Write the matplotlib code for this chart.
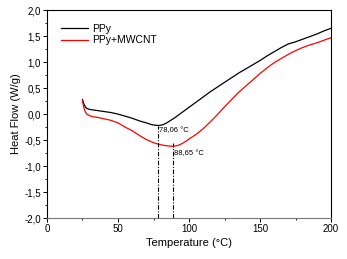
import numpy as np
import matplotlib as mpl
mpl.use("Agg")
mpl.rcParams['font.family'] = ['Liberation Sans', 'DejaVu Sans']
import matplotlib.pyplot as plt
from matplotlib.ticker import MultipleLocator, FuncFormatter

# temperatures (°C) and heat flow (W/g)
t_ppy = [25, 26, 27, 28, 30, 35, 40, 45, 50, 55, 60, 65, 70, 74, 78.06, 80,
         82, 84, 86, 88, 90, 95, 100, 105, 110, 115, 120, 125, 130, 135, 140,
         145, 150, 155, 160, 165, 170, 175, 180, 185, 190, 195, 200]
hf_ppy = [0.28, 0.19, 0.14, 0.11, 0.09, 0.07, 0.05, 0.03, 0.0, -0.04, -0.08,
          -0.13, -0.17, -0.205, -0.22, -0.215, -0.20, -0.175, -0.14, -0.105,
          -0.07, 0.03, 0.13, 0.23, 0.33, 0.43, 0.52, 0.61, 0.70, 0.79, 0.87,
          0.95, 1.03, 1.12, 1.20, 1.28, 1.35, 1.39, 1.44, 1.49, 1.54, 1.60,
          1.65]

t_mw = [25, 26, 27, 28, 30, 32, 35, 40, 45, 50, 55, 60, 65, 70, 75, 80, 85,
        88.65, 92, 95, 98, 100, 105, 110, 115, 120, 125, 130, 135, 140, 145,
        150, 155, 160, 165, 170, 175, 180, 185, 190, 195, 200]
hf_mw = [0.25, 0.12, 0.04, 0.0, -0.03, -0.05, -0.06, -0.09, -0.12, -0.17,
         -0.25, -0.32, -0.41, -0.49, -0.55, -0.59, -0.612, -0.62, -0.605,
         -0.57, -0.52, -0.48, -0.39, -0.28, -0.15, -0.01, 0.14, 0.28, 0.42,
         0.54, 0.66, 0.78, 0.89, 0.99, 1.07, 1.15, 1.22, 1.28, 1.33, 1.37,
         1.42, 1.47]

peaks = [78.06, 88.65]
peak_tops = [-0.22, -0.55]
peak_labels = ["78,06 °C", "88,65 °C"]
label_y = [-0.32, -0.75]

fig = plt.figure(figsize=(3.47, 2.59), dpi=100)
ax = fig.add_axes([0.1354, 0.158, 0.8186, 0.803])

ax.plot(t_ppy, hf_ppy, c="black", lw=0.9, label="PPy")
ax.plot(t_mw, hf_mw, c="red", lw=0.9, label="PPy+MWCNT")

for x, top, lab, ly in zip(peaks, peak_tops, peak_labels, label_y):
    ax.plot([x, x], [-2.0, top], ls=(0, (4, 1.5, 1, 1.5)), c="black", lw=0.8)
    ax.text(x + 1, ly, lab, fontsize=5.5, va="center", ha="left")

ax.set_xlim(0, 200)
ax.set_ylim(-2.0, 2.0)
ax.xaxis.set_major_locator(MultipleLocator(50))
ax.xaxis.set_minor_locator(MultipleLocator(25))
ax.yaxis.set_major_locator(MultipleLocator(0.5))
ax.yaxis.set_minor_locator(MultipleLocator(0.25))
ax.yaxis.set_major_formatter(FuncFormatter(lambda v, p: f"{v:.1f}".replace(".", ",")))
ax.tick_params(which="major", direction="out", length=3, width=0.7, labelsize=7, pad=1.5)
ax.tick_params(which="minor", direction="out", length=1.5, width=0.6)

ax.set_xlabel("Temperature (°C)", fontsize=8, labelpad=3)
ax.set_ylabel("Heat Flow (W/g)", fontsize=8, labelpad=2)

for s in ax.spines.values():
    s.set_linewidth(0.8)
ax.spines["bottom"].set_color("#777777")

ax.legend(loc="upper left", frameon=False, fontsize=7.5, handlelength=2.6,
          handletextpad=0.4, labelspacing=0.15, borderaxespad=0.7,
          borderpad=0.6)

fig.savefig("out.png", dpi=100)
